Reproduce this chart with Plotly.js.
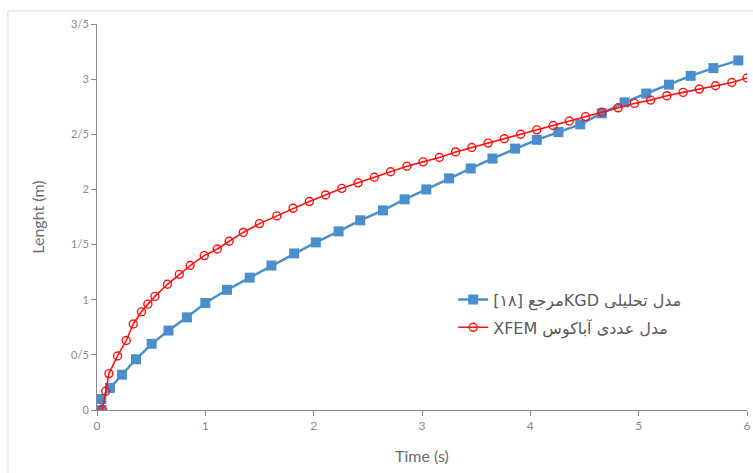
<!DOCTYPE html>
<html>
<head>
<meta charset="utf-8">
<script src="https://cdn.plot.ly/plotly-3.0.1.min.js"></script>
<style>html,body{margin:0;padding:0;background:#fff;}#chart{width:753px;height:473px;}</style>
</head>
<body>
<div id="chart"></div>
<script>
// Analytical KGD model (reference [18]) - blue squares
const kgdTime = [0.04, 0.04, 0.12, 0.23, 0.36, 0.505, 0.66, 0.83, 1.0, 1.2, 1.41, 1.61, 1.82, 2.02, 2.23, 2.43, 2.64, 2.84, 3.04, 3.25, 3.45, 3.65, 3.86, 4.06, 4.26, 4.46, 4.66, 4.87, 5.07, 5.28, 5.48, 5.69, 5.92];
const kgdLength = [0.0, 0.10, 0.20, 0.32, 0.46, 0.60, 0.72, 0.84, 0.97, 1.09, 1.20, 1.31, 1.42, 1.52, 1.62, 1.72, 1.81, 1.91, 2.00, 2.10, 2.19, 2.28, 2.37, 2.45, 2.52, 2.59, 2.69, 2.79, 2.87, 2.95, 3.03, 3.10, 3.17];

// Numerical XFEM Abaqus model - red open circles
const xfemTime = [0.05, 0.08, 0.11, 0.19, 0.27, 0.335, 0.41, 0.47, 0.535, 0.65, 0.76, 0.86, 0.99, 1.11, 1.22, 1.35, 1.50, 1.66, 1.81, 1.96, 2.11, 2.26, 2.41, 2.56, 2.71, 2.86, 3.01, 3.16, 3.31, 3.46, 3.61, 3.76, 3.91, 4.06, 4.21, 4.36, 4.51, 4.66, 4.81, 4.96, 5.11, 5.26, 5.41, 5.56, 5.71, 5.86, 6.00];
const xfemLength = [0.0, 0.17, 0.33, 0.49, 0.63, 0.78, 0.89, 0.96, 1.03, 1.14, 1.23, 1.31, 1.40, 1.46, 1.53, 1.61, 1.69, 1.76, 1.83, 1.89, 1.95, 2.01, 2.06, 2.11, 2.16, 2.21, 2.25, 2.29, 2.34, 2.38, 2.42, 2.46, 2.50, 2.54, 2.58, 2.62, 2.66, 2.70, 2.74, 2.78, 2.81, 2.85, 2.88, 2.91, 2.94, 2.97, 3.01];

const seriesNames = ["مدل تحلیلی KGDمرجع [۱۸]", "مدل عددی آباکوس XFEM"];
const xTickVals = [0, 1, 2, 3, 4, 5, 6];
const xTickText = ["0", "1", "2", "3", "4", "5", "6"];
const yTickVals = [0, 0.5, 1, 1.5, 2, 2.5, 3, 3.5];
const yTickText = ["0", "0/5", "1", "1/5", "2", "2/5", "3", "3/5"];

const rtl = s => "\u202B" + s + "\u202C";

const FONT = "Lato, 'DejaVu Sans', sans-serif";
const AXIS = "#898989";

const traces = [
  {
    x: kgdTime, y: kgdLength, name: rtl(seriesNames[0]), type: "scatter", mode: "lines+markers",
    legendgroup: "a",
    line: {color: "#4A8FCB", width: 2.5},
    marker: {symbol: "square", size: 10, color: "#4A8FCB"}
  },
  {
    x: xfemTime, y: xfemLength, name: rtl(seriesNames[1]), type: "scatter", mode: "lines+markers",
    legendgroup: "b",
    line: {color: "#FF1010", width: 1.6},
    marker: {symbol: "circle-open", size: 8, color: "#FF1010", line: {width: 1.4}}
  }
];

const layout = {
  width: 753, height: 473,
  margin: {l: 97, r: 6, t: 24, b: 63},
  paper_bgcolor: "#ffffff", plot_bgcolor: "#ffffff",
  font: {family: FONT, color: "#7f7f7f", size: 12},
  showlegend: true,
  legend: {
    x: 0.548, y: 0.33, xanchor: "left", yanchor: "top",
    bgcolor: "rgba(0,0,0,0)", font: {family: "'DejaVu Sans', sans-serif", size: 16, color: "#595959"},
    tracegroupgap: 4
  },
  xaxis: {
    range: [0, 6], tickvals: xTickVals, ticktext: xTickText,
    showgrid: false, zeroline: false, showline: true, linecolor: AXIS, linewidth: 1,
    ticks: "outside", ticklen: 5, tickcolor: AXIS, tickfont: {size: 12, color: "#8a8a8a"},
    title: {text: "Time (s)", font: {size: 16, color: "#6b6b6b"}, standoff: 18}
  },
  yaxis: {
    range: [0, 3.5], tickvals: yTickVals, ticktext: yTickText,
    showgrid: false, zeroline: false, showline: true, linecolor: AXIS, linewidth: 1,
    ticks: "outside", ticklen: 5, tickcolor: AXIS, tickfont: {size: 11, color: "#8a8a8a"},
    title: {text: "Lenght (m)", font: {size: 16, color: "#6b6b6b"}, standoff: 22}
  },
  shapes: [
    {type: "line", xref: "paper", yref: "paper", x0: -0.137, x1: -0.137, y0: -0.2, y1: 1.034, line: {color: "#d9d9d9", width: 1}},
    {type: "line", xref: "paper", yref: "paper", x0: -0.137, x1: 1.02, y0: 1.034, y1: 1.034, line: {color: "#d9d9d9", width: 1}}
  ]
};

Plotly.newPlot("chart", traces, layout, {displayModeBar: false, staticPlot: true});
</script>
</body>
</html>
